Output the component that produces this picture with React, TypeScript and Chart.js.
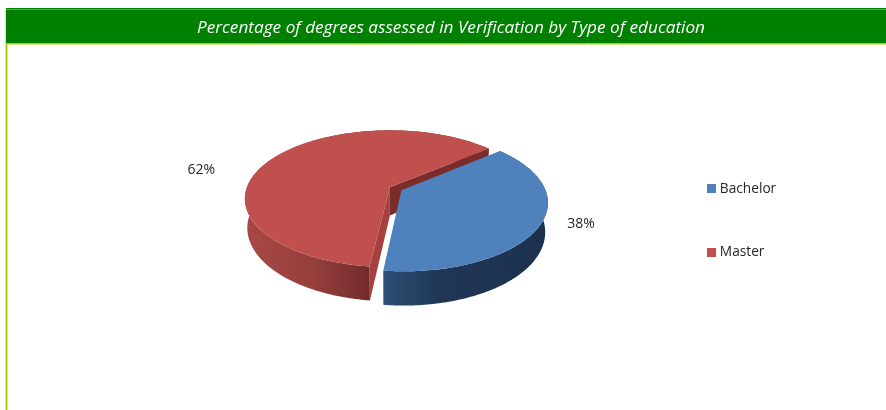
import React, { useEffect, useRef } from "react";
import { Chart, registerables } from "chart.js";

Chart.register(...registerables);

const categories = ["Bachelor", "Master"];
const shares = [38, 62];
const sliceColors = ["#4f81bd", "#c0504d"];
const titleText = "Percentage of degrees assessed in Verification by Type of education";

const FONT = "'Open Sans', sans-serif";
const TILT = 0.465;
const PERSPECTIVE = 0.167;
const DEPTH = 28.3;
const wallStops = [
  ["#2d4e76", "#1f3654", "#1c3150"],
  ["#a84846", "#963f3d", "#722b2a"],
];
const startFaceColor = "#a5413f";
const endFaceColor = "#7a2c2a";
const labelShift = [
  [41, -1],
  [-72, 12],
];

const swatch = (color: string) => {
  const c = document.createElement("canvas");
  c.width = 9;
  c.height = 9;
  const x = c.getContext("2d") as CanvasRenderingContext2D;
  x.fillStyle = color;
  x.fillRect(0, 0, 9, 9);
  return c;
};

const pie3d = {
  id: "pie3d",
  beforeDraw(chart: any) {
    const { ctx, width, height } = chart;
    ctx.save();
    ctx.fillStyle = "#ffffff";
    ctx.fillRect(0, 0, width, height);
    ctx.fillStyle = "#d9d9d9";
    ctx.fillRect(5, 9, 1, height - 9);
    ctx.fillStyle = "#a4d600";
    ctx.fillRect(6, 9, 1.5, height - 9);
    ctx.fillStyle = "#008000";
    ctx.fillRect(6, 8, width - 6, 36);
    ctx.fillStyle = "#6fb000";
    ctx.fillRect(6, 9, width - 6, 1);
    ctx.fillStyle = "#a4d600";
    ctx.fillRect(6, 43, width - 6, 1.5);
    ctx.restore();
  },
  afterLayout(chart: any) {
    const legend = chart.legend;
    const pad = legend.options.labels.padding;
    legend.left = 710 - pad;
    legend.right = 886;
    legend.top = 182 - pad;
    legend.bottom = 410;
    const title = chart.titleBlock;
    title.left = 16;
    title.right = 886;
  },
  beforeDatasetsDraw(chart: any) {
    const { ctx } = chart;
    const arcs = chart.getDatasetMeta(0).data;
    const total = shares.reduce((a, b) => a + b, 0);
    for (let i = arcs.length - 1; i >= 0; i--) {
      const arc = arcs[i];
      const r = arc.outerRadius;
      const a0 = arc.startAngle;
      const a1 = arc.endAngle;
      const mid = (a0 + a1) / 2;
      const off = (arc.options.offset || 0) / r;
      const ou = off * Math.cos(mid);
      const ov = off * Math.sin(mid);
      const project = (f: number, a: number, z: number) => {
        const u = ou + f * Math.cos(a);
        const v = ov + f * Math.sin(a);
        const w = 1 / (1 - PERSPECTIVE * v);
        return [
          arc.x + r * u * w * (1 - z * 0.0006),
          arc.y + r * TILT * v * w + z * w,
        ];
      };
      const steps = Math.ceil((a1 - a0) / (Math.PI / 180));
      const rim: number[][] = [];
      for (let s = 0; s <= steps; s++) rim.push(project(1, a0 + ((a1 - a0) * s) / steps, 0));
      const rimLow: number[][] = [];
      for (let s = 0; s <= steps; s++) rimLow.push(project(1, a0 + ((a1 - a0) * s) / steps, DEPTH));
      const poly = (pts: number[][], fill: any) => {
        ctx.beginPath();
        pts.forEach((p, n) => (n ? ctx.lineTo(p[0], p[1]) : ctx.moveTo(p[0], p[1])));
        ctx.closePath();
        ctx.fillStyle = fill;
        ctx.fill();
      };
      ctx.save();
      const visible = rim.filter((_, n) => {
        const a = a0 + ((a1 - a0) * n) / steps;
        return Math.sin(a) > -0.1;
      });
      const xs = visible.map((p) => p[0]);
      const g = ctx.createLinearGradient(Math.min(...xs), 0, Math.max(...xs), 0);
      const stops = wallStops[i];
      const order = i === 1 ? [0, 0.55, 1] : [0, 0.35, 1];
      stops.forEach((c, n) => g.addColorStop(order[n], c));
      poly([...rim, ...rimLow.slice().reverse()], g);
      if (a1 - a0 > Math.PI) {
        const c0 = project(0, 0, 0);
        const c1 = project(0, 0, DEPTH);
        poly([c0, rim[rim.length - 1], rimLow[rimLow.length - 1], c1], endFaceColor);
        poly([c0, rim[0], rimLow[0], c1], startFaceColor);
      }
      poly([project(0, 0, 0), ...rim], arc.options.backgroundColor);
      const anchor = project(1, mid, 0);
      ctx.fillStyle = "#262626";
      ctx.font = `14px ${FONT}`;
      ctx.textAlign = "center";
      ctx.textBaseline = "middle";
      ctx.fillText(
        `${Math.round((shares[i] / total) * 100)}%`,
        anchor[0] + labelShift[i][0],
        anchor[1] + labelShift[i][1]
      );
      ctx.restore();
    }
    return false;
  },
};

export default function App() {
  const ref = useRef<HTMLCanvasElement>(null);
  useEffect(() => {
    document.body.style.margin = "0";
    const chart = new Chart(ref.current as HTMLCanvasElement, {
      type: "pie",
      data: {
        labels: categories,
        datasets: [
          {
            data: shares,
            backgroundColor: sliceColors,
            borderWidth: 0,
            offset: [13, 0],
          },
        ],
      },
      options: {
        responsive: false,
        animation: false,
        rotation: 50,
        radius: 143,
        layout: { padding: { left: 20, right: 0, top: 0, bottom: 80 } },
        plugins: {
          tooltip: { enabled: false },
          title: {
            display: true,
            text: titleText,
            color: "#ffffff",
            font: { family: FONT, size: 17.2, style: "italic", weight: "normal" },
            padding: { top: 18, bottom: 6 },
          },
          legend: {
            position: "right",
            align: "start",
            labels: {
              color: "#262626",
              font: { family: FONT, size: 13.7 },
              boxWidth: 9,
              boxHeight: 9,
              usePointStyle: true,
              pointStyleWidth: 3,
              padding: 50,
              generateLabels: (c: any) =>
                Chart.overrides.pie.plugins.legend.labels
                  .generateLabels(c)
                  .map((item: any, n: number) => ({ ...item, pointStyle: swatch(sliceColors[n]) })),
            },
          },
        },
      },
      plugins: [pie3d],
    } as any);
    return () => chart.destroy();
  }, []);
  return <canvas ref={ref} width={886} height={410} style={{ display: "block" }} />;
}
